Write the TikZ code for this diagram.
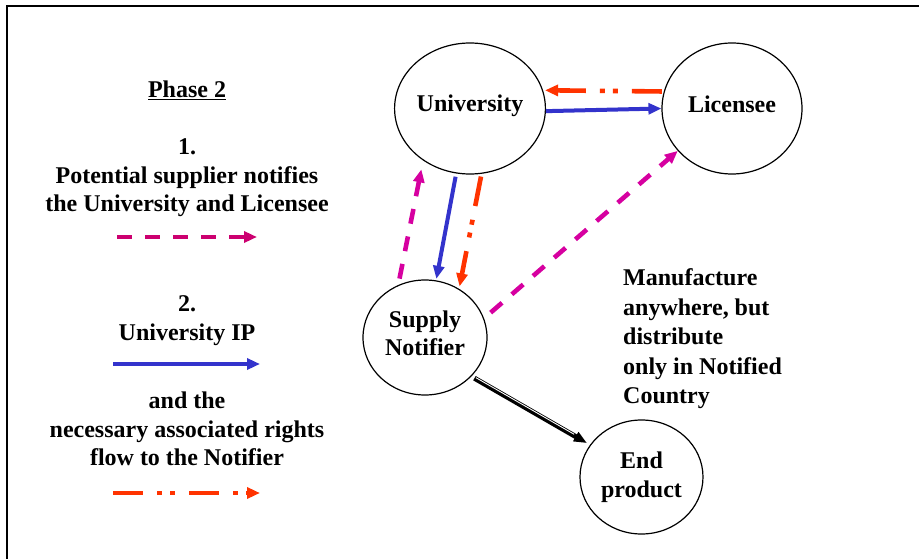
\documentclass[tikz,border=0pt]{standalone}
\usepackage{fontspec}
\setmainfont{Liberation Serif}
\usetikzlibrary{shapes.geometric,arrows.meta}
\definecolor{ipblue}{RGB}{51,51,204}
\definecolor{rightsred}{RGB}{255,51,0}
\definecolor{notemag}{RGB}{214,0,160}
\definecolor{legmag}{RGB}{204,0,112}
\newcommand{\dropby}[1]{\rule[-#1]{0pt}{#1}}
\begin{document}
\begin{tikzpicture}[x=1pt,y=-1pt,
  txt/.style={font=\fontsize{24}{28.5}\selectfont\bfseries, inner sep=0pt},
  party/.style={ellipse, draw, line width=1.2pt, inner sep=0pt, txt, align=center},
  tipend/.style={-{Triangle[length=13pt,width=11pt]}},
  notify/.style={tipend, line width=4.6pt, dash pattern=on 15pt off 13pt},
  ipflow/.style={tipend, ipblue, line width=4pt},
  rights/.style={tipend, rightsred, line width=4.6pt, dash pattern=on 30pt off 14pt on 5pt off 8pt on 5pt off 14pt},
]
\useasboundingbox (0,0) rectangle (919,559);
\fill[white] (0,0) rectangle (919,559);
\draw[line width=2pt] (6.5,559) -- (6.5,5.7) -- (919,5.7);

% parties
\node[party, minimum width=138pt, minimum height=131pt] (uni) at (470,108.5) {University\dropby{11.5pt}};
\node[party, minimum width=140pt, minimum height=131pt] (lic) at (732,108.5) {Licensee\dropby{9.5pt}};
\node[party, minimum width=124pt, minimum height=115pt] (sn) at (425,337.5) {Supply\\Notifier\dropby{9pt}};
\node[party, minimum width=123pt, minimum height=114pt] (ep) at (641.5,477) {End\\product};

% legend
\node[txt, anchor=base] (phase) at (187,98) {\underline{Phase 2}};
\node[txt, anchor=north, align=center] (step1) at (187,138.8) {1.\\Potential supplier notifies\\the University and Licensee};
\node[txt, anchor=north, align=center] (step2) at (187,295.8) {2.\\University IP};
\node[txt, anchor=north, align=center] (step2b) at (187,391.8) {and the\\necessary associated rights\\flow to the Notifier};
\coordinate (l1a) at (117,237); \coordinate (l1b) at (257,237);
\coordinate (l2a) at (113,364); \coordinate (l2b) at (260,364);
\coordinate (l3a) at (113,493); \coordinate (l3b) at (260,493);
\draw[notify, legmag] (l1a) -- (l1b);
\draw[ipflow] (l2a) -- (l2b);
\draw[rights] (l3a) -- (l3b);

% note
\node[txt, font=\fontsize{24}{29.5}\selectfont\bfseries, anchor=north west, align=left] (note) at (623,268.5)
  {Manufacture\\anywhere, but\\distribute\\only in Notified\\Country};

% connectors
\draw[rights, shorten <=2pt, shorten >=2pt] (lic.166) -- (uni.14);
\draw[ipflow] (uni.-2) -- (lic.180);
\draw[notify, notemag, shorten <=6.5pt, shorten >=9pt] (sn.117) -- (uni.228);
\draw[ipflow, shorten <=3.3pt, shorten >=1.5pt] (uni.258) -- (sn.79);
\draw[rights, shorten <=2.8pt, shorten >=2.4pt] (uni.280) -- (sn.55);
\draw[notify, notemag, shorten <=8.7pt] (sn.18) -- (lic.218.4);
\draw[line width=5pt, -{Triangle[length=13pt,width=10pt]}, shorten <=3.5pt, shorten >=3.5pt] (sn.-40) -- (ep.148);
\draw[white, line width=0.9pt, shorten <=4.5pt, shorten >=19pt, transform canvas={shift={(0.6,-1.05)}}] (sn.-40) -- (ep.148);
\end{tikzpicture}
\end{document}
